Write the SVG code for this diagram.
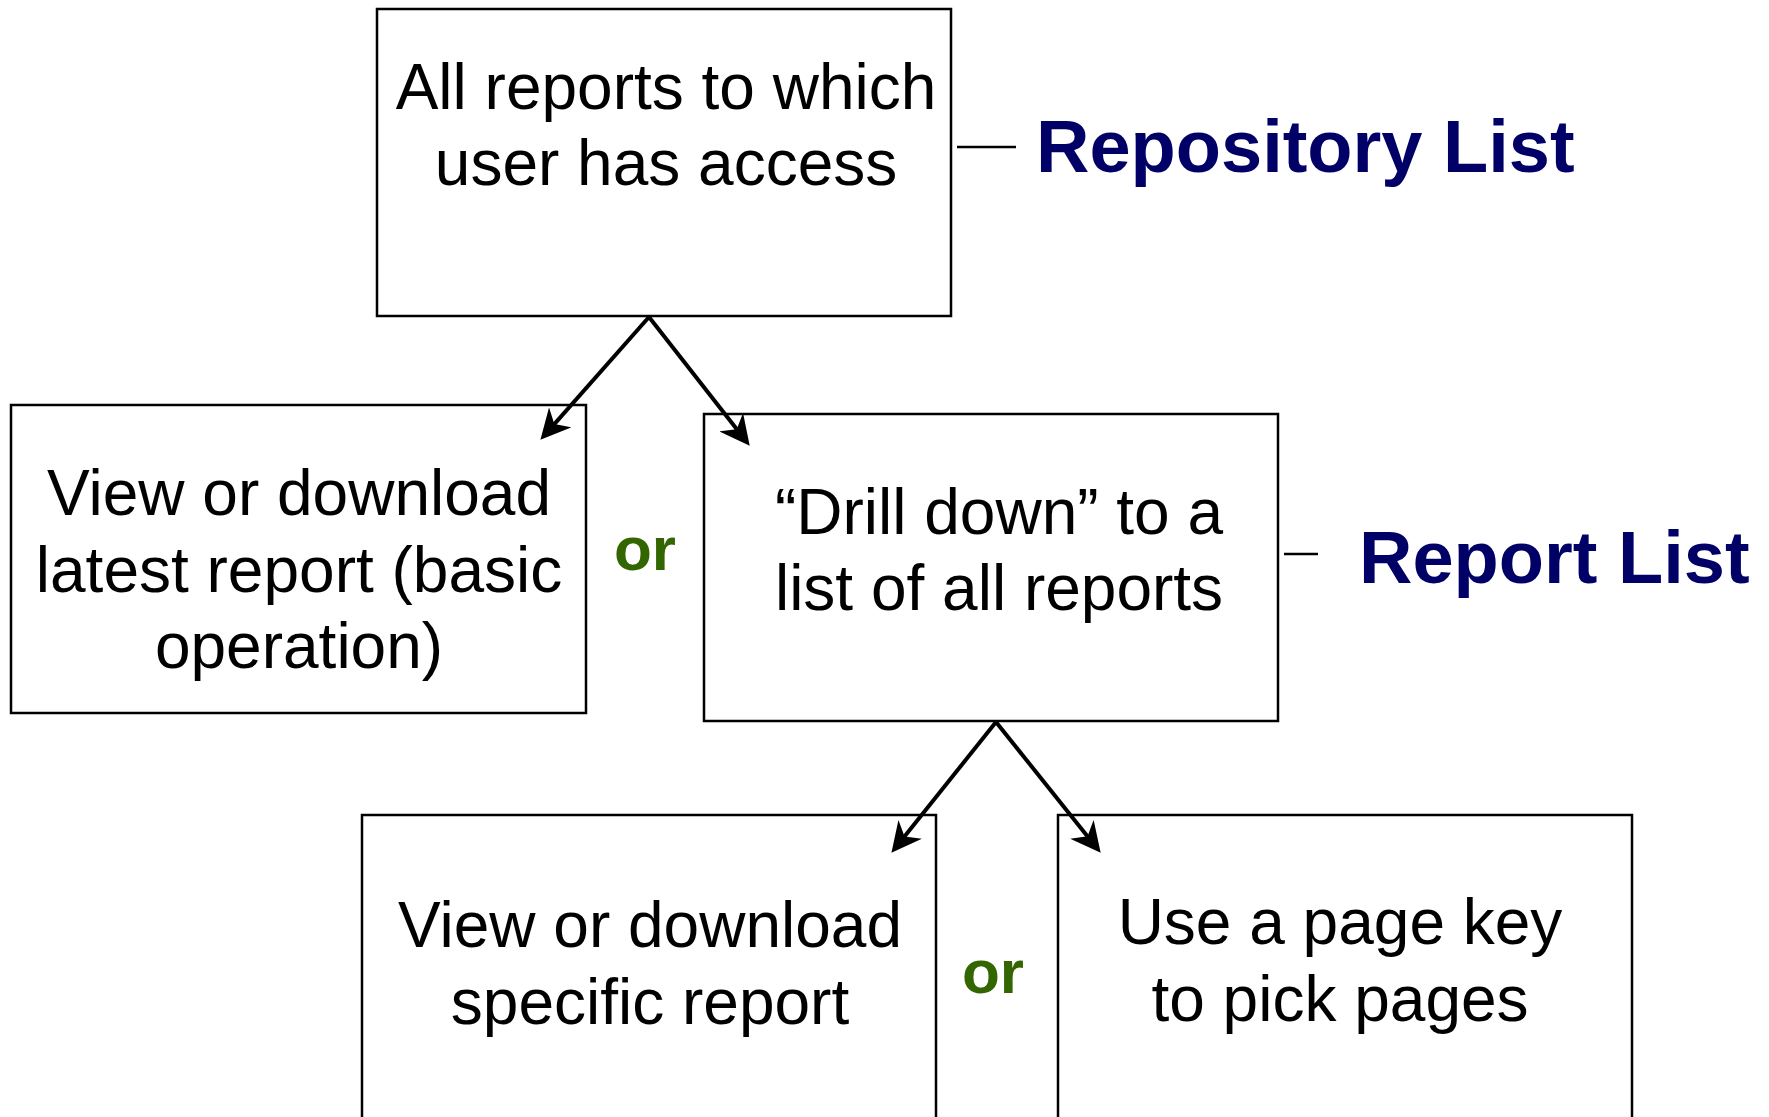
<svg xmlns="http://www.w3.org/2000/svg" width="1769" height="1117" viewBox="0 0 1769 1117">
<style>
.box{fill:#ffffff;stroke:#000000;stroke-width:2.5}
.t{font-family:"Liberation Sans",Arial,sans-serif;font-size:64px;fill:#000000;text-anchor:middle}
.lbl{font-family:"Liberation Sans",Arial,sans-serif;font-size:74px;font-weight:bold;fill:#000066}
.or{font-family:"Liberation Sans",Arial,sans-serif;font-size:62px;font-weight:bold;fill:#336600}
.conn{stroke:#000000;stroke-width:4;fill:none}
.tick{stroke:#000000;stroke-width:2.5}
</style>
<defs>
<marker id="ah" viewBox="0 0 30 30" refX="11" refY="15" markerWidth="30" markerHeight="30" markerUnits="userSpaceOnUse" orient="auto">
<path d="M30,15 L0,0 L9,15 L0,30 Z" fill="#000000"/>
</marker>
</defs>
<rect width="1769" height="1117" fill="#ffffff"/>
<g id="repository">
<rect class="box" x="377" y="9" width="574" height="307"/>
<text class="t" x="666" y="109">All reports to which</text>
<text class="t" x="666" y="185">user has access</text>
</g>
<g id="latest">
<rect class="box" x="11" y="405" width="575" height="308"/>
<text class="t" x="299" y="515">View or download</text>
<text class="t" x="299" y="592">latest report (basic</text>
<text class="t" x="299" y="668">operation)</text>
</g>
<g id="drilldown">
<rect class="box" x="704" y="414" width="574" height="307"/>
<text class="t" x="999" y="534">“Drill down” to a</text>
<text class="t" x="999" y="610">list of all reports</text>
</g>
<g id="specific">
<rect class="box" x="362" y="815" width="574" height="307"/>
<text class="t" x="650" y="947">View or download</text>
<text class="t" x="650" y="1024">specific report</text>
</g>
<g id="pagekey">
<rect class="box" x="1058" y="815" width="574" height="307"/>
<text class="t" x="1340" y="944">Use a page key</text>
<text class="t" x="1340" y="1021">to pick pages</text>
</g>
<g id="labels">
<text class="lbl" x="1036" y="172">Repository List</text>
<text class="lbl" x="1359" y="583">Report List</text>
<text class="or" x="614" y="570">or</text>
<text class="or" x="962" y="993">or</text>
</g>
<g id="connectors">
<line class="conn" x1="649" y1="317" x2="553" y2="425.6" marker-end="url(#ah)"/>
<line class="conn" x1="649" y1="317" x2="738" y2="430.8" marker-end="url(#ah)"/>
<line class="conn" x1="996" y1="722" x2="903.3" y2="838" marker-end="url(#ah)"/>
<line class="conn" x1="996" y1="722" x2="1088.8" y2="837.9" marker-end="url(#ah)"/>
<line class="tick" x1="957" y1="147" x2="1016" y2="147"/>
<line class="tick" x1="1284" y1="554" x2="1318" y2="554"/>
</g>
</svg>
